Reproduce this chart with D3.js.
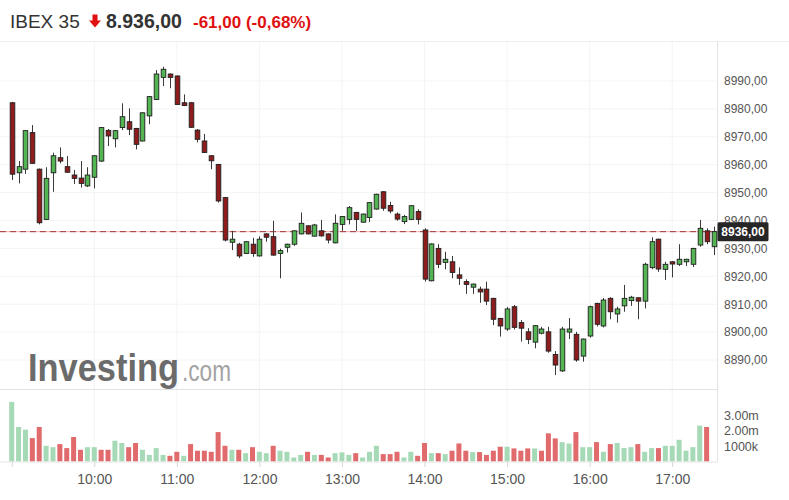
<!DOCTYPE html>
<html><head><meta charset="utf-8">
<script src="https://cdn.jsdelivr.net/npm/d3@7"></script>
<style>
body{margin:0;background:#fff}
svg{display:block;font-family:"Liberation Sans",Arial,sans-serif}
</style>
</head><body>
<svg id="chart" width="789" height="500"></svg>
<script>
// ---- data (5-minute candles, 09:00 .. 17:30) ----
const openV = [8982.2,8957.1,8958.4,8971.5,8958.4,8940.4,8957.1,8962.5,8959.3,8956.3,8955.2,8952.4,8955.5,8961.3,8972.3,8969.3,8973.3,8975.4,8973.0,8968.5,
8977.5,8983.4,8991.3,8992.5,8991.8,8982.2,8982.2,8972.4,8968.5,8963.2,8960.1,8948.2,8932.2,8931.5,8928.2,8931.5,8927.3,8935.2,8934.2,8928.2,
8930.4,8931.5,8935.2,8938.1,8934.4,8936.3,8935.2,8932.0,8938.6,8940.4,8942.9,8939.4,8941.1,8944.1,8950.3,8945.4,8942.3,8939.6,8940.4,8943.2,
8936.6,8918.4,8930.0,8925.0,8925.2,8920.5,8918.1,8916.1,8915.4,8915.4,8912.1,8904.9,8901.1,8909.1,8903.4,8900.1,8896.4,8899.6,8900.1,8892.0,
8886.1,8900.0,8899.2,8891.4,8898.6,8910.3,8902.2,8912.1,8906.5,8909.4,8911.3,8912.3,8911.1,8923.1,8933.3,8922.5,8925.2,8924.3,8925.2,8924.3,
8931.2,8936.3,8930.6];
const highV = [8982.5,8961.3,8972.4,8974.2,8958.6,8959.1,8964.3,8966.2,8963.1,8958.1,8961.3,8959.1,8963.4,8973.5,8972.8,8972.4,8982.0,8980.2,8973.2,8978.8,
8984.6,8993.9,8995.1,8992.7,8992.0,8985.2,8982.4,8972.8,8971.0,8963.4,8960.3,8948.4,8936.3,8932.0,8932.6,8933.8,8934.3,8935.4,8939.9,8929.9,
8931.7,8936.5,8942.9,8938.3,8938.8,8940.2,8935.4,8942.2,8941.6,8945.2,8943.1,8942.5,8946.6,8949.6,8950.5,8946.7,8942.9,8942.0,8945.5,8944.0,
8937.2,8931.8,8931.5,8928.8,8927.3,8923.2,8918.9,8917.4,8916.3,8918.1,8912.3,8905.1,8909.0,8909.7,8904.3,8901.4,8902.5,8901.9,8901.9,8893.2,
8901.9,8905.0,8900.1,8897.7,8909.5,8910.5,8912.2,8912.5,8909.1,8916.9,8913.0,8912.5,8924.9,8934.0,8933.5,8925.2,8925.4,8931.5,8926.3,8930.2,
8940.2,8937.2,8937.8];
const lowV = [8954.5,8953.3,8956.7,8960.3,8938.6,8940.2,8950.3,8960.5,8957.1,8953.1,8951.8,8952.0,8951.5,8961.0,8966.7,8966.2,8972.4,8970.6,8965.5,8968.3,
8974.5,8983.2,8988.2,8987.4,8981.4,8981.0,8973.2,8968.0,8964.2,8958.4,8946.4,8932.5,8929.4,8926.5,8928.0,8927.0,8927.1,8932.4,8927.4,8919.3,
8928.5,8930.9,8935.0,8935.0,8934.2,8934.2,8931.8,8931.8,8936.3,8938.6,8936.3,8939.2,8939.4,8943.9,8943.5,8942.6,8939.9,8938.7,8940.2,8938.6,
8918.1,8918.2,8922.9,8922.5,8919.3,8916.9,8913.7,8913.7,8910.5,8909.7,8902.5,8898.4,8900.4,8900.9,8896.6,8895.7,8894.2,8899.2,8892.6,8884.6,
8885.7,8897.5,8889.4,8889.4,8898.0,8902.0,8901.7,8904.6,8903.4,8907.3,8909.4,8904.6,8908.5,8922.5,8921.6,8918.7,8919.6,8923.7,8923.7,8923.3,
8930.6,8931.5,8927.6];
const closeV = [8956.6,8959.3,8972.2,8960.5,8939.2,8955.1,8963.2,8961.3,8957.3,8955.1,8953.3,8956.3,8963.2,8973.3,8970.3,8972.2,8977.2,8972.7,8967.3,8978.6,
8984.4,8992.5,8994.2,8991.3,8981.6,8981.2,8973.4,8969.1,8964.4,8961.4,8947.0,8933.0,8933.3,8927.3,8932.4,8928.2,8933.3,8934.0,8927.6,8929.2,
8931.5,8936.3,8939.0,8935.2,8938.4,8934.5,8933.0,8939.0,8941.4,8944.6,8940.4,8942.3,8946.4,8949.4,8944.4,8943.4,8940.5,8941.4,8945.3,8940.4,
8919.0,8931.6,8924.3,8926.1,8921.4,8919.3,8917.1,8917.2,8914.4,8911.1,8904.6,8902.2,8908.3,8901.7,8901.4,8897.4,8902.3,8901.1,8893.2,8888.2,
8901.1,8901.1,8890.0,8897.5,8909.1,8902.8,8911.5,8907.3,8908.3,8912.1,8912.5,8911.1,8924.3,8932.4,8922.6,8924.3,8924.4,8926.1,8926.1,8930.0,
8937.2,8932.4,8936.0];
// volume in millions, and its bar colour (1 = up/green, 0 = down/red)
const volumeM = [3.87,2.24,2.07,1.52,2.24,1.02,0.93,1.13,0.87,1.59,0.76,0.93,0.93,0.76,0.76,1.35,1.20,0.93,1.20,0.76,
0.43,0.87,0.43,0.37,0.63,0.37,1.13,0.70,0.70,0.63,1.91,1.02,0.76,0.76,0.54,0.93,0.63,0.54,1.02,0.70,
0.63,0.26,0.43,0.63,0.43,0.43,0.26,0.54,0.59,0.43,0.54,0.26,0.63,1.02,0.48,0.48,0.63,0.26,0.63,0.37,
1.20,0.54,0.54,0.48,0.70,1.17,0.70,0.61,0.61,0.43,0.70,0.96,0.96,0.85,0.70,0.85,0.85,0.70,1.83,1.50,
1.26,1.17,1.91,0.93,0.93,1.26,0.63,1.13,1.20,0.87,0.93,1.13,0.63,0.87,0.87,1.02,1.02,1.41,0.70,0.93,
2.33,2.24];
const volumeUp = [1,1,1,0,0,1,1,0,0,0,0,1,1,0,0,1,1,0,0,1,
1,1,1,0,0,1,0,0,0,0,0,0,1,0,1,0,1,1,0,1,
1,1,1,0,1,0,0,1,1,1,0,1,1,1,0,0,0,1,1,0,
0,1,0,1,0,0,0,1,0,0,0,0,1,0,0,0,1,0,0,0,
1,1,0,1,1,0,1,0,1,1,1,0,1,1,0,1,1,1,1,1,
1,0];
const priceTicks = [8890,8900,8910,8920,8930,8940,8950,8960,8970,8980,8990];
const volTicks = [1,2,3];
const volTickLabels = ["1000k","2.00m","3.00m"];
const hourTickIdx = [0,12,24,36,48,60,72,84,96];
const hourLabels = ["","10:00","11:00","12:00","13:00","14:00","15:00","16:00","17:00"];
const lastPrice = 8936;
const titleName = "IBEX 35";
const titlePrice = "8.936,00";
const titleChange = "-61,00";
const titlePct = "(-0,68%)";

// ---- layout ----
const svg = d3.select("#chart");
const plotRight = 717;
const x = d3.scaleLinear().domain([0, 102]).range([11.7, 713.5]);
const y = d3.scaleLinear().domain([8890, 8990]).range([360, 81]);
const vy = d3.scaleLinear().domain([0, 3]).range([461.5, 415.3]);
const fmtPrice = d => d3.format(".2f")(d).replace(".", ",");

// grid
svg.append("g").selectAll("line").data(priceTicks).join("line")
  .attr("x1", 0).attr("x2", plotRight).attr("y1", d => y(d)).attr("y2", d => y(d))
  .attr("stroke", "#f4f4f4");
svg.append("g").selectAll("line").data(hourTickIdx.slice(1)).join("line")
  .attr("x1", d => x(d)).attr("x2", d => x(d)).attr("y1", 41).attr("y2", 462)
  .attr("stroke", "#f4f4f4");

// frame lines
svg.append("line").attr("x1", 0).attr("x2", 789).attr("y1", 41.5).attr("y2", 41.5).attr("stroke", "#efefef");
svg.append("line").attr("x1", 0).attr("x2", plotRight).attr("y1", 389.5).attr("y2", 389.5).attr("stroke", "#e3e3e3");
svg.append("line").attr("x1", plotRight + 0.5).attr("x2", plotRight + 0.5).attr("y1", 41).attr("y2", 462).attr("stroke", "#e3e3e3");

// watermark (one text, two spans)
const wm = svg.append("text").attr("x", 28).attr("y", 381);
wm.append("tspan").attr("font-size", 38).attr("font-weight", "bold").attr("fill", "#6b6b6b")
  .attr("textLength", 151).attr("lengthAdjust", "spacingAndGlyphs").text("Investing");
wm.append("tspan").attr("dx", 3).attr("font-size", 30).attr("fill", "#a3a3a3")
  .attr("textLength", 49).attr("lengthAdjust", "spacingAndGlyphs").text(".com");

// last price line
svg.append("line").attr("x1", 0).attr("x2", plotRight).attr("y1", y(lastPrice)).attr("y2", y(lastPrice))
  .attr("stroke", "#f0b0b0").attr("stroke-width", 1);
svg.append("line").attr("x1", 0).attr("x2", plotRight).attr("y1", y(lastPrice)).attr("y2", y(lastPrice))
  .attr("stroke", "#a33a3a").attr("stroke-width", 1).attr("stroke-dasharray", "6,4");

// candles
const idx = d3.range(openV.length);
const bodyW = 4.6;
const cg = svg.append("g");
cg.selectAll("line.wick").data(idx).join("line").attr("class", "wick")
  .attr("x1", i => Math.round(x(i)) + 0.5).attr("x2", i => Math.round(x(i)) + 0.5)
  .attr("y1", i => y(highV[i])).attr("y2", i => y(lowV[i]))
  .attr("stroke", "#3a3a3a").attr("stroke-width", 1);
cg.selectAll("rect.body").data(idx).join("rect").attr("class", "body")
  .attr("x", i => Math.round(x(i)) + 0.5 - bodyW / 2)
  .attr("y", i => y(Math.max(openV[i], closeV[i])))
  .attr("width", bodyW)
  .attr("height", i => Math.max(1.5, Math.abs(y(openV[i]) - y(closeV[i]))))
  .attr("fill", i => closeV[i] >= openV[i] ? "#52b552" : "#8e1c1c")
  .attr("stroke", "#1e1e1e").attr("stroke-width", 0.9);

// volume
svg.append("g").selectAll("rect").data(volumeM).join("rect")
  .attr("x", (d, i) => x(i) - 2.5)
  .attr("y", d => vy(d))
  .attr("width", 5)
  .attr("height", d => vy(0) - vy(d))
  .attr("fill", (d, i) => volumeUp[i] ? "#a6d9b5" : "#e06a6c");

// baseline
svg.append("line").attr("x1", 0).attr("x2", plotRight).attr("y1", 462).attr("y2", 462).attr("stroke", "#e6e6e6");

// price axis
const pa = svg.append("g").attr("transform", `translate(${plotRight},0)`)
  .call(d3.axisRight(y).tickValues(priceTicks).tickFormat(fmtPrice).tickSize(0).tickPadding(7));
pa.select(".domain").remove();
pa.selectAll("text").attr("font-size", 12).attr("fill", "#555").attr("font-family", "Liberation Sans, Arial, sans-serif");

// volume axis
const va = svg.append("g").attr("transform", `translate(${plotRight},0)`)
  .call(d3.axisRight(vy).tickValues(volTicks).tickFormat((d, i) => volTickLabels[i]).tickSize(0).tickPadding(7));
va.select(".domain").remove();
va.selectAll("text").attr("font-size", 12.5).attr("fill", "#555").attr("font-family", "Liberation Sans, Arial, sans-serif");

// time axis
const ta = svg.append("g").attr("transform", "translate(0,462)")
  .call(d3.axisBottom(x).tickValues(hourTickIdx).tickFormat((d, i) => hourLabels[i]).tickSize(5).tickPadding(7));
ta.select(".domain").remove();
ta.selectAll("line").attr("stroke", "#d6d6d6");
ta.selectAll("text").attr("font-size", 14).attr("fill", "#555").attr("font-family", "Liberation Sans, Arial, sans-serif");

// last price tag
const tag = svg.append("g").attr("transform", `translate(${plotRight},${y(lastPrice)})`);
tag.append("rect").attr("x", 0.5).attr("y", -9.5).attr("width", 51).attr("height", 19).attr("rx", 1.5).attr("fill", "#262626");
tag.append("text").attr("x", 26).attr("y", 0).attr("dy", "0.36em").attr("text-anchor", "middle")
  .attr("font-size", 12).attr("font-weight", "bold").attr("fill", "#fff").text(fmtPrice(lastPrice));

// header
const hd = svg.append("g");
hd.append("text").attr("x", 10).attr("y", 28).attr("font-size", 19).attr("fill", "#333").text(titleName);
hd.append("path").attr("d", "M92.5,14.5 h5 v6 h3.5 l-6,7 l-6,-7 h3.5 z").attr("fill", "#e01010");
hd.append("text").attr("x", 106).attr("y", 28).attr("font-size", 19.5).attr("font-weight", "bold").attr("fill", "#333").text(titlePrice);
hd.append("text").attr("x", 193).attr("y", 28).attr("font-size", 17).attr("font-weight", "bold").attr("fill", "#e01010")
  .text(titleChange + " " + titlePct);
</script>
</body></html>
